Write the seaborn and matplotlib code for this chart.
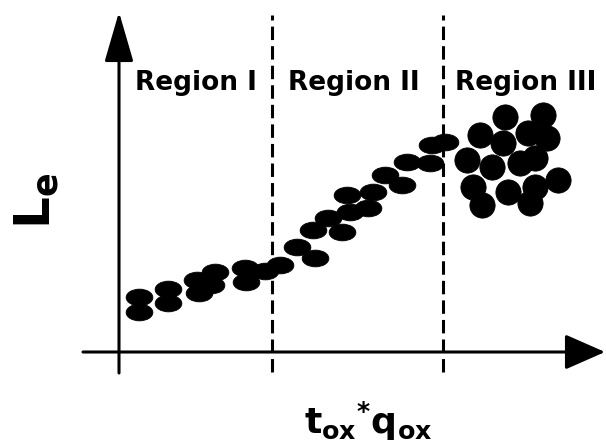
import matplotlib
matplotlib.use("Agg")
import matplotlib.pyplot as plt
from matplotlib.path import Path
from matplotlib.transforms import Affine2D
from matplotlib.patches import ArrowStyle
import pandas as pd
import seaborn as sns

# Regions I and II: Le grows steadily with tox*qox
trend_x = [2.0, 2.0, 4.9, 4.9, 7.8, 8.0, 9.6, 9.2, 12.6, 12.7, 14.6, 16.1,
           17.8, 19.6, 19.4, 20.9, 22.3, 23.1, 22.8, 24.9, 25.4, 26.6, 28.3,
           28.8, 31.1, 31.3, 32.6]
trend_y = [5.5, 4.0, 6.3, 4.9, 7.2, 5.9, 8.0, 6.7, 8.4, 7.0, 8.1, 8.7,
           10.5, 9.4, 12.2, 13.4, 12.0, 14.0, 15.7, 14.4, 16.0, 17.7, 16.7,
           19.0, 18.9, 20.7, 21.0]

# Region III: saturated, widely scattered cloud
sat_x = [38.6, 42.4, 36.1, 38.4, 40.9, 42.8, 34.8, 37.3, 40.1, 41.6,
         35.4, 36.3, 38.9, 41.6, 43.9, 41.1]
sat_y = [23.5, 23.7, 21.7, 20.9, 21.9, 21.4, 19.2, 18.5, 18.9, 19.4,
         16.5, 14.7, 16.0, 16.5, 17.2, 14.9]

region_bounds = [15.3, 32.4]
region_labels = ["Region I", "Region II", "Region III"]

trend = pd.DataFrame({"x": trend_x, "y": trend_y})
sat = pd.DataFrame({"x": sat_x, "y": sat_y})

sns.set_style("white")
plt.rcParams["font.family"] = ["DejaVu Sans"]

fig = plt.figure(figsize=(6.06, 4.45), dpi=100)
ax = fig.add_axes([0, 0, 1, 1])
ax.set_xlim(-11.9, 48.7)
ax.set_ylim(-9.3, 35.2)
ax.set_axis_off()

# flattened ellipse marker for the trend points
circle = Path.unit_circle()
ellipse = circle.transformed(Affine2D().scale(1.6, 1.0))

sns.scatterplot(data=trend, x="x", y="y", marker=ellipse, s=370,
                color="black", edgecolor="black", linewidth=0.6, ax=ax,
                legend=False, zorder=3)
sns.scatterplot(data=sat, x="x", y="y", marker="o", s=330,
                color="black", edgecolor="black", linewidth=0.6, ax=ax,
                legend=False, zorder=3)

# dashed region boundaries
for xb in region_bounds:
    ax.plot([xb, xb], [-2.0, 33.7], color="black", lw=2.2,
            linestyle=(0, (4.4, 2.0)), zorder=2)

# axes with arrow heads
ax.annotate("", xy=(0, 34.0), xytext=(0, -2.1),
            arrowprops=dict(arrowstyle=ArrowStyle("-|>", head_length=31, head_width=9),
                            mutation_scale=1, lw=2.2, color="black",
                            shrinkA=0, shrinkB=0))
ax.annotate("", xy=(48.6, 0), xytext=(-3.6, 0),
            arrowprops=dict(arrowstyle=ArrowStyle("-|>", head_length=25, head_width=11),
                            mutation_scale=1, lw=2.2, color="black",
                            shrinkA=0, shrinkB=0),
            annotation_clip=False)

# region names
label_left = [1.6, 16.9, 33.6]
for xl, name in zip(label_left, region_labels):
    ax.text(xl, 26.2, name, ha="left", va="baseline", fontsize=19,
            fontweight="bold", color="black")

ax.text(-8.2, 15.1, r"$\mathregular{L_e}$", rotation=90, ha="center",
        va="center", fontsize=36, fontweight="bold", color="black")
ax.text(24.9, -6.9, r"$\mathregular{t_{ox}{}^{*}q_{ox}}$", ha="center",
        va="center", fontsize=26, fontweight="bold", color="black")

fig.savefig("out.png", dpi=100, facecolor="white")
